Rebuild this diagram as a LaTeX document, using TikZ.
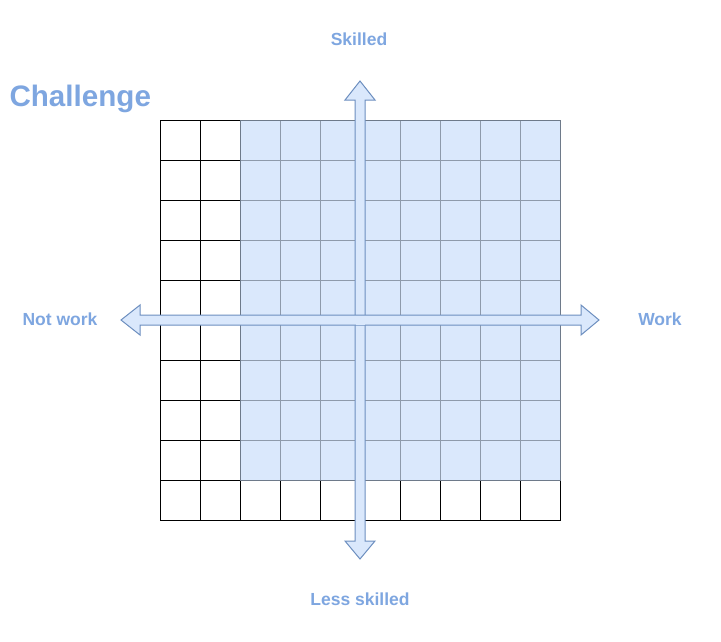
\documentclass[tikz,border=0pt]{standalone}
\usepackage{fontspec}
\setmainfont{Liberation Sans}
\definecolor{axisfill}{HTML}{DAE8FC}
\definecolor{axisline}{HTML}{6C8EBF}
\definecolor{labelblue}{HTML}{7EA6E0}
\definecolor{cellline}{HTML}{8E9AAB}
\definecolor{zoneline}{HTML}{6E7A8A}

\tikzset{
  axislabel/.style={text=labelblue, font=\fontsize{17.5}{20}\selectfont\bfseries, inner sep=0pt},
  axisarrow/.style={draw=axisline, fill=axisfill, line join=miter}
}

\begin{document}
\begin{tikzpicture}[x=1pt, y=-1pt, line width=1pt]
  \useasboundingbox (0,0) rectangle (721,641);

  % plain cells
  \foreach \i in {0,...,9}{
    \foreach \j in {0,...,9}{
      \draw (160+40*\i,120+40*\j) rectangle +(40,40);
    }
  }

  % shaded zone
  \fill[axisfill] (240,120) rectangle (560,480);
  \foreach \i in {0,...,7}{
    \foreach \j in {0,...,8}{
      \draw[cellline] (240+40*\i,120+40*\j) rectangle +(40,40);
    }
  }
  \draw[zoneline] (240,120) rectangle (560,480);

  % axes
  \draw[axisarrow] (355,100) -- (345,100) -- (360,81) -- (375,100) -- (365,100)
    -- (365,541) -- (375,541) -- (360,559) -- (345,541) -- (355,541) -- cycle;
  \draw[axisarrow] (140,315) -- (140,305) -- (121,320) -- (140,335) -- (140,325)
    -- (581,325) -- (581,335) -- (599,320) -- (581,305) -- (581,315) -- cycle;
  \fill[axisfill] (355.5,315.5) rectangle (364.5,324.5);

  \node[axislabel] (skilled) at (359,39) {Skilled};
  \node[axislabel] (lessskilled) at (360,599) {Less skilled};
  \node[axislabel] (notwork) at (60,319) {Not work};
  \node[axislabel] (work) at (660,319) {Work};
  \node[text=labelblue, font=\fontsize{29.6}{32}\selectfont\bfseries, inner sep=0pt,
        anchor=base west] (challenge) at (9,106) {Challenge};
\end{tikzpicture}
\end{document}
